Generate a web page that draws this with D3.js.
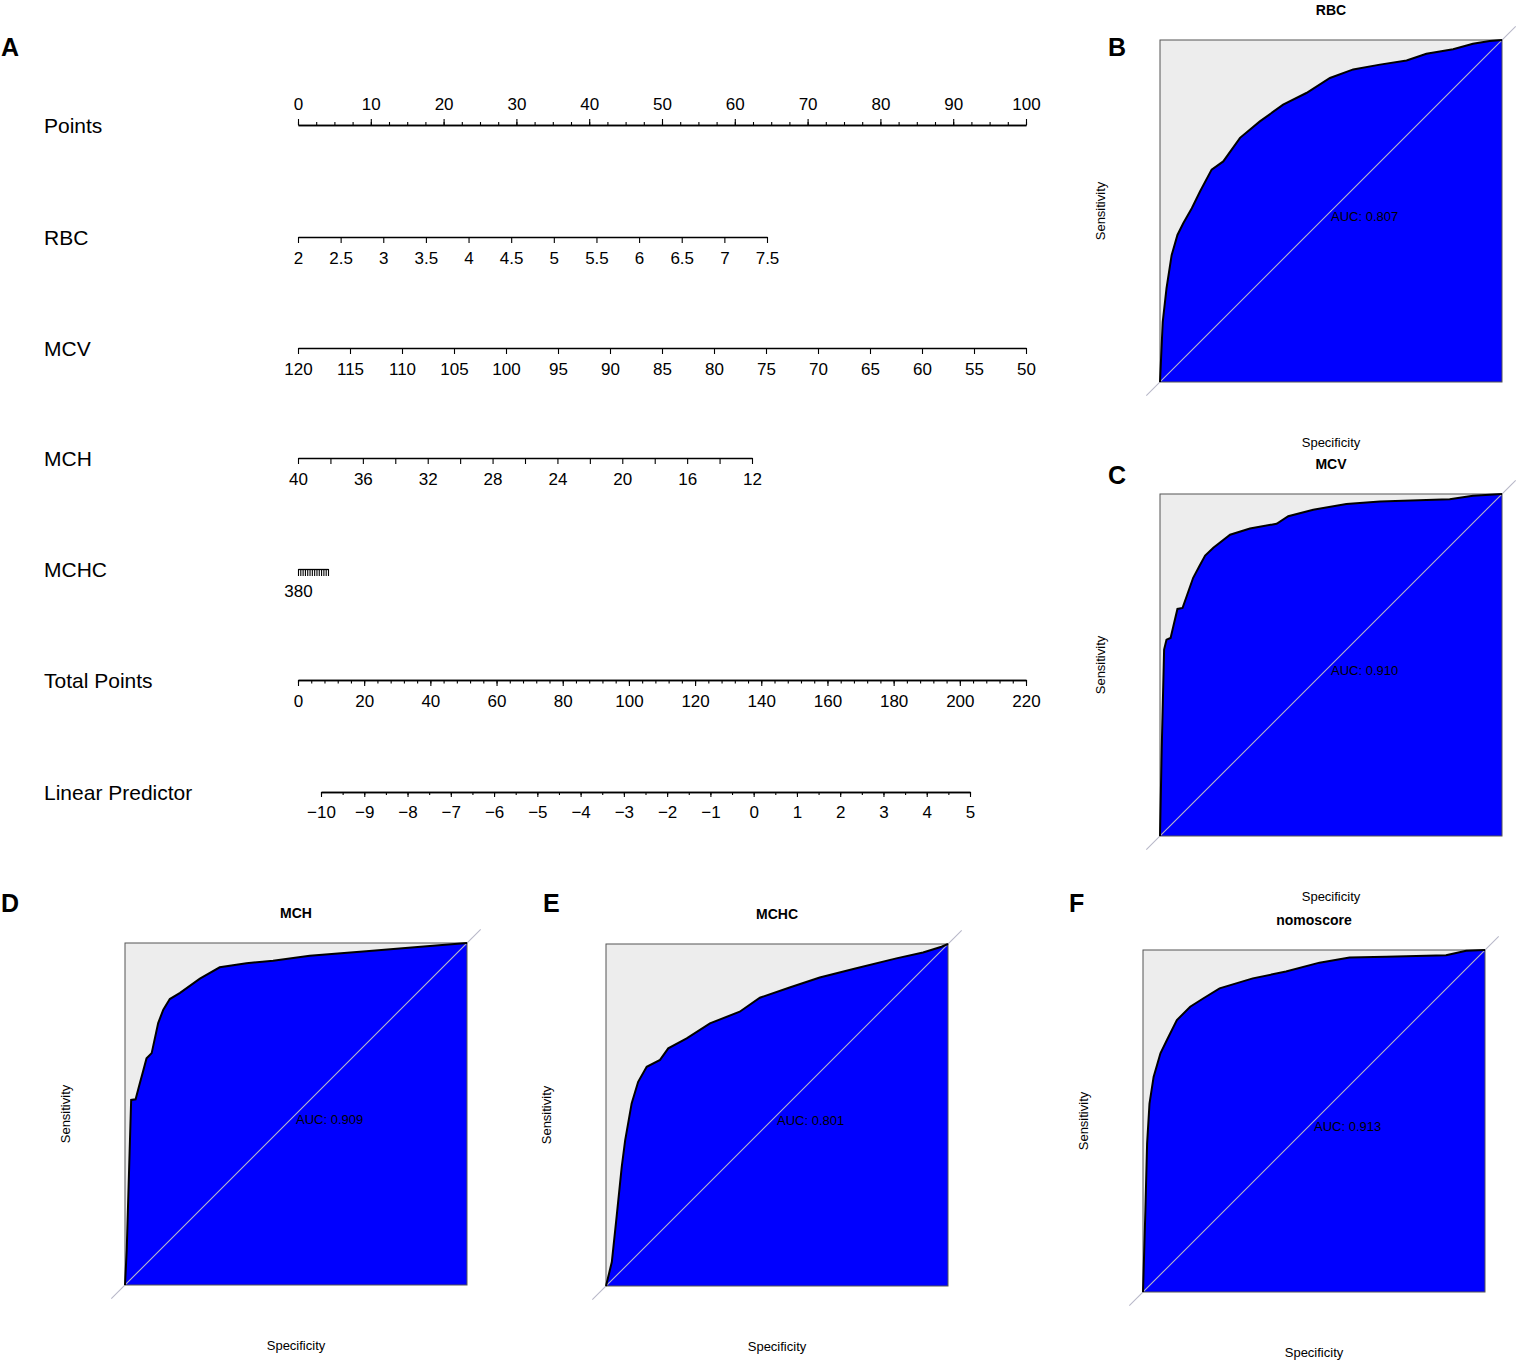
<!DOCTYPE html>
<html><head><meta charset="utf-8">
<script src="https://cdn.jsdelivr.net/npm/d3@7/dist/d3.min.js"></script>
<style>
body{margin:0;background:#fff;}
svg{display:block;font-family:"Liberation Sans",Arial,sans-serif;}
</style></head>
<body><svg id="c" width="1522" height="1365"></svg>
<script>
// ---------- Nomogram data ----------
const pointsMajor = [0,10,20,30,40,50,60,70,80,90,100];
const pointsMinorStep = 2.5;
const rbcTicks = [2,2.5,3,3.5,4,4.5,5,5.5,6,6.5,7,7.5];
const mcvTicks = [120,115,110,105,100,95,90,85,80,75,70,65,60,55,50];
const mchLabels = [40,36,32,28,24,20,16,12];
const mchTicks = [40,38,36,34,32,30,28,26,24,22,20,18,16,14,12];
const mchcTicks = [380,370,360,350,340,330,320,310,300,290,280,270,260,250];
const mchcLabels = [380];
const totalMajor = [0,20,40,60,80,100,120,140,160,180,200,220];
const totalMinorStep = 4;
const lpMajor = [-10,-9,-8,-7,-6,-5,-4,-3,-2,-1,0,1,2,3,4,5];
const lpMinorStep = 0.5;
const rowNames = ["Points","RBC","MCV","MCH","MCHC","Total Points","Linear Predictor"];

// ---------- ROC data (FPR = 1 - specificity, TPR = sensitivity) ----------
const rocRBC = [[0,0],[0.008,0.176],[0.019,0.274],[0.034,0.371],[0.051,0.430],[0.068,0.464],[0.093,0.508],[0.117,0.557],[0.151,0.621],[0.185,0.645],[0.234,0.714],[0.292,0.762],[0.360,0.811],[0.428,0.845],[0.497,0.889],[0.565,0.914],[0.643,0.928],[0.721,0.940],[0.779,0.960],[0.857,0.973],[0.915,0.989],[0.964,0.997],[1,1]];
const rocMCV = [[0,0],[0.005,0.253],[0.012,0.545],[0.019,0.574],[0.031,0.579],[0.039,0.613],[0.051,0.664],[0.066,0.667],[0.078,0.701],[0.097,0.755],[0.115,0.789],[0.132,0.820],[0.156,0.843],[0.205,0.881],[0.263,0.899],[0.341,0.913],[0.375,0.935],[0.448,0.954],[0.545,0.971],[0.643,0.978],[0.847,0.985],[0.915,0.995],[1,1]];
const rocMCH = [[0,0],[0.005,0.102],[0.018,0.541],[0.031,0.543],[0.042,0.585],[0.054,0.629],[0.063,0.663],[0.078,0.678],[0.097,0.766],[0.112,0.805],[0.131,0.836],[0.161,0.854],[0.219,0.896],[0.277,0.929],[0.355,0.941],[0.433,0.948],[0.540,0.963],[0.705,0.976],[0.900,0.992],[1,1]];
const rocMCHC = [[0,0],[0.017,0.070],[0.031,0.202],[0.046,0.348],[0.056,0.426],[0.075,0.534],[0.094,0.597],[0.119,0.641],[0.158,0.661],[0.182,0.695],[0.236,0.724],[0.304,0.768],[0.391,0.802],[0.450,0.843],[0.537,0.873],[0.625,0.902],[0.732,0.929],[0.849,0.958],[0.927,0.975],[0.981,0.992],[1,1]];
const rocNomo = [[0,0],[0.007,0.239],[0.012,0.434],[0.019,0.551],[0.031,0.629],[0.051,0.698],[0.070,0.737],[0.099,0.795],[0.138,0.834],[0.177,0.859],[0.224,0.888],[0.321,0.917],[0.418,0.937],[0.516,0.963],[0.604,0.978],[0.711,0.980],[0.886,0.985],[0.945,0.998],[1,1]];
const rocTitles = ["RBC","MCV","MCH","MCHC","nomoscore"];
const rocAUC = ["0.807","0.910","0.909","0.801","0.913"];
const rocLetters = ["B","C","D","E","F"];

const svg = d3.select("#c");
svg.append("rect").attr("width",1522).attr("height",1365).attr("fill","#fff");

// ---------- Panel A: nomogram ----------
const X0 = 298, X1 = 1026;
const rowY = [125, 237, 348, 458, 569, 680, 792];
const labFS = 17;

svg.append("text").attr("x",1).attr("y",56).attr("font-size",25).attr("font-weight","bold").text("A");
rowNames.forEach((n,i)=>{
  svg.append("text").attr("x",44).attr("y",rowY[i]+1).attr("dy","0.35em")
    .attr("font-size",21).attr("fill","#000").text(n);
});

function styleAxis(g){
  g.selectAll("path.domain").attr("stroke","#000").attr("stroke-width",1.3);
  g.selectAll(".tick line").attr("stroke","#000").attr("stroke-width",1.1);
  g.selectAll(".tick text").attr("font-size",labFS).attr("fill","#000")
   .attr("font-family","'Liberation Sans',Arial,sans-serif");
}
function drawAxis(scale, y, dir, major, minor, majorLen, minorLen, labels, fmt){
  const mk = dir==="top" ? d3.axisTop : d3.axisBottom;
  if(minor){
    const gm = svg.append("g").attr("transform",`translate(0,${y})`)
      .call(mk(scale).tickValues(minor).tickSize(minorLen).tickSizeOuter(0).tickFormat(""));
    styleAxis(gm);
  }
  const g = svg.append("g").attr("transform",`translate(0,${y})`)
    .call(mk(scale).tickValues(major).tickSize(majorLen).tickSizeOuter(0).tickPadding(9)
      .tickFormat(d => (labels ? (labels.includes(d) ? fmt(d) : "") : fmt(d))));
  styleAxis(g);
  return g;
}
const fmtPlain = d => d3.format("")(d);

const sPts = d3.scaleLinear().domain([0,100]).range([X0,X1]);
drawAxis(sPts, rowY[0], "top", pointsMajor, d3.range(0,100.001,pointsMinorStep), 6, 3, null, fmtPlain);
const sRBC = d3.scaleLinear().domain([2,7.5]).range([X0,767]);
drawAxis(sRBC, rowY[1], "bottom", rbcTicks, null, 6, 0, null, fmtPlain);
const sMCV = d3.scaleLinear().domain([120,50]).range([X0,X1]);
drawAxis(sMCV, rowY[2], "bottom", mcvTicks, null, 6, 0, null, fmtPlain);
const sMCH = d3.scaleLinear().domain([40,12]).range([X0,752]);
drawAxis(sMCH, rowY[3], "bottom", mchTicks, null, 6, 0, mchLabels, fmtPlain);
const sMCHC = d3.scaleLinear().domain([380,250]).range([X0,328]);
drawAxis(sMCHC, rowY[4], "bottom", mchcTicks, null, 7, 0, mchcLabels, fmtPlain);
const sTot = d3.scaleLinear().domain([0,220]).range([X0,X1]);
drawAxis(sTot, rowY[5], "bottom", totalMajor, d3.range(0,220.001,totalMinorStep), 6, 3.5, null, fmtPlain);
const sLP = d3.scaleLinear().domain([-10,5]).range([321,970]);
drawAxis(sLP, rowY[6], "bottom", lpMajor, d3.range(-10,5.001,lpMinorStep), 5, 3, null, d3.format("d"));

// ---------- ROC panels ----------
const boxes = [[1160,40],[1160,494],[125,943],[606,944],[1143,950]];
const letterPos = [[1108,56],[1108,484],[1,912],[543,912],[1069,912]];
const rocData = [rocRBC, rocMCV, rocMCH, rocMCHC, rocNomo];
const S = 342;

rocData.forEach((data,i)=>{
  const [bx,by] = boxes[i];
  const x = d3.scaleLinear().domain([0,1]).range([bx,bx+S]);
  const y = d3.scaleLinear().domain([0,1]).range([by+S,by]);
  const g = svg.append("g");
  g.append("rect").attr("x",bx).attr("y",by).attr("width",S).attr("height",S)
    .attr("fill","#ededed").attr("stroke","none");
  const area = d3.area().x(d=>x(d[0])).y0(y(0)).y1(d=>y(d[1]));
  g.append("path").datum(data).attr("d",area).attr("fill","#0000ff").attr("stroke","none");
  g.append("line").attr("x1",x(-0.04)).attr("y1",y(-0.04)).attr("x2",x(1.04)).attr("y2",y(1.04))
    .attr("stroke","#b8b8c8").attr("stroke-width",1.1);
  g.append("rect").attr("x",bx).attr("y",by).attr("width",S).attr("height",S)
    .attr("fill","none").attr("stroke","#555").attr("stroke-width",1);
  const line = d3.line().x(d=>x(d[0])).y(d=>y(d[1]));
  g.append("path").datum(data).attr("d",line).attr("fill","none").attr("stroke","#000").attr("stroke-width",2);
  g.append("text").attr("x",x(0.5)).attr("y",y(0.5)+5).attr("dy","0.35em").attr("font-size",13)
    .attr("fill","#000").text("AUC: " + rocAUC[i]);
  g.append("text").attr("x",bx+S/2).attr("y",by-30).attr("dy","0.35em").attr("text-anchor","middle")
    .attr("font-size",14).attr("font-weight","bold").text(rocTitles[i]);
  g.append("text").attr("x",bx+S/2).attr("y",by+S+60).attr("dy","0.35em").attr("text-anchor","middle")
    .attr("font-size",13).text("Specificity");
  g.append("text").attr("transform",`translate(${bx-60},${by+S/2}) rotate(-90)`).attr("dy","0.35em")
    .attr("text-anchor","middle").attr("font-size",13).text("Sensitivity");
  svg.append("text").attr("x",letterPos[i][0]).attr("y",letterPos[i][1]).attr("font-size",25)
    .attr("font-weight","bold").text(rocLetters[i]);
});
</script>
</body></html>
